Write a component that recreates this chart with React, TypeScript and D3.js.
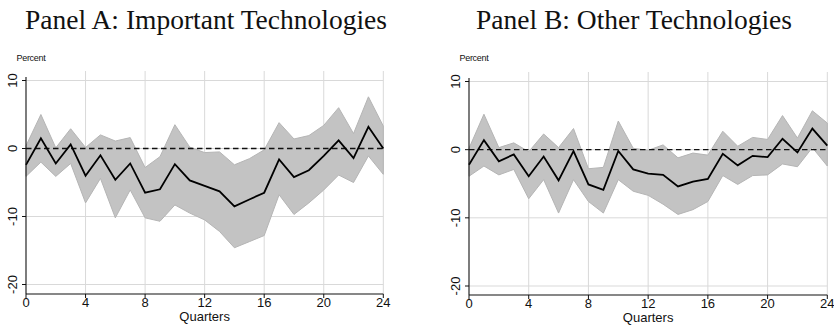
import React from "react";
import * as d3 from "d3";

// Quarters since the event
const quarters = [0, 1, 2, 3, 4, 5, 6, 7, 8, 9, 10, 11, 12, 13, 14, 15, 16, 17, 18, 19, 20, 21, 22, 23, 24];

// Panel A: important technologies (point estimate and confidence band, percent)
const estimateA = [-2.4, 1.5, -2.2, 0.6, -4.0, -1.0, -4.6, -2.2, -6.5, -6.0, -2.3, -4.7, -5.5, -6.3, -8.5, -7.5, -6.5, -1.6, -4.2, -3.2, -1.1, 1.2, -1.4, 3.2, 0.0];
const upperA = [0.4, 5.0, 0.1, 2.9, 0.15, 2.0, 1.1, 1.6, -2.8, -1.2, 3.5, 0.2, -0.6, -0.5, -2.4, -1.5, -0.2, 3.8, 1.4, 1.9, 3.4, 6.0, 2.2, 7.6, 3.3];
const lowerA = [-4.1, -2.0, -4.1, -2.2, -8.0, -4.4, -10.2, -6.1, -10.2, -10.7, -8.3, -9.5, -10.5, -12.2, -14.6, -13.7, -12.8, -6.8, -9.7, -8.0, -6.1, -3.9, -5.0, -1.1, -3.8];

// Panel B: other technologies
const estimateB = [-2.2, 1.4, -1.7, -0.7, -3.9, -1.0, -4.5, -0.2, -5.1, -5.9, -0.2, -2.9, -3.5, -3.7, -5.4, -4.7, -4.3, -0.6, -2.3, -0.9, -1.1, 1.6, -0.4, 3.1, 0.6];
const upperB = [0.2, 5.2, 0.3, 1.0, -0.3, 2.3, 0.3, 3.1, -2.8, -2.6, 4.2, 0.2, -0.1, 0.7, -1.2, -0.5, -0.8, 2.7, 0.5, 1.8, 1.5, 5.0, 1.7, 5.7, 3.9];
const lowerB = [-3.9, -2.4, -3.7, -2.9, -7.2, -4.4, -9.3, -4.4, -7.6, -9.3, -4.4, -6.1, -6.7, -8.0, -9.5, -8.8, -7.6, -3.8, -5.1, -3.8, -3.7, -2.1, -2.5, 0.3, -2.4];

const xTicks = [0, 4, 8, 12, 16, 20, 24];
const yTicks = [10, 0, -10, -20];

const titles = ["Panel A: Important Technologies", "Panel B: Other Technologies"];
const yLabel = "Percent";
const xLabel = "Quarters";

const SANS = "'Liberation Sans', Arial, Helvetica, sans-serif";
const SERIF = "'Liberation Serif', 'Times New Roman', serif";

type PanelProps = {
  title: string;
  titleX: number;
  est: number[];
  hi: number[];
  lo: number[];
  x0: number;
  x1: number;
  yTop: number; // pixel for y = 10
  yBot: number; // pixel for y = -20
  axisY: number; // pixel of the bottom axis line
};

function Panel({ title, titleX, est, hi, lo, x0, x1, yTop, yBot, axisY }: PanelProps) {
  const x = d3.scaleLinear().domain([0, 24]).range([x0, x1]);
  const y = d3.scaleLinear().domain([10, -20]).range([yTop, yBot]);
  const plotTop = yTop - 9.5;

  const rows = quarters.map((q, i) => ({ q, e: est[i], h: hi[i], l: lo[i] }));
  const band = d3
    .area<{ q: number; h: number; l: number }>()
    .x((d) => x(d.q))
    .y0((d) => y(d.l))
    .y1((d) => y(d.h));
  const line = d3
    .line<{ q: number; e: number }>()
    .x((d) => x(d.q))
    .y((d) => y(d.e));

  return (
    <g>
      <text x={titleX} y={28.5} textAnchor="middle" fontFamily={SERIF} fontSize={27.5} fill="#111">
        {title}
      </text>
      <text x={x0 - 9.5} y={61} fontFamily={SANS} fontSize={9} fill="#111" letterSpacing={-0.3}>
        {yLabel}
      </text>

      {/* grid */}
      {xTicks.slice(1).map((t) => (
        <line key={"gx" + t} x1={x(t)} x2={x(t)} y1={plotTop} y2={axisY} stroke="#d9d9d9" strokeWidth={1} />
      ))}
      {yTicks.map((t) => (
        <line key={"gy" + t} x1={x0} x2={x1} y1={y(t)} y2={y(t)} stroke="#d9d9d9" strokeWidth={1} />
      ))}

      {/* confidence band */}
      <path d={band(rows) ?? ""} fill="#c3c3c3" stroke="#b5b5b5" strokeWidth={1} strokeLinejoin="round" />

      {/* zero reference */}
      <line x1={x(0)} x2={x(24)} y1={y(0)} y2={y(0)} stroke="#111" strokeWidth={1.4} strokeDasharray="5.5,3.5" />

      {/* point estimates */}
      <path d={line(rows) ?? ""} fill="none" stroke="#000" strokeWidth={1.8} strokeLinejoin="miter" />

      {/* axes */}
      <line x1={x0} x2={x0} y1={yTop - 3.5} y2={axisY} stroke="#111" strokeWidth={1.1} />
      <line x1={x0} x2={x1} y1={axisY} y2={axisY} stroke="#111" strokeWidth={1.1} />
      {yTicks.map((t) => (
        <g key={"ty" + t}>
          <line x1={x0 - 4} x2={x0} y1={y(t)} y2={y(t)} stroke="#111" strokeWidth={1} />
          <text
            transform={`translate(${x0 - 9},${y(t)}) rotate(-90)`}
            textAnchor="middle"
            fontFamily={SANS}
            fontSize={13}
            fill="#111"
          >
            {t}
          </text>
        </g>
      ))}
      {xTicks.map((t) => (
        <g key={"tx" + t}>
          <line x1={x(t)} x2={x(t)} y1={axisY} y2={axisY + 4} stroke="#111" strokeWidth={1} />
          <text x={x(t)} y={axisY + 12.5} textAnchor="middle" fontFamily={SANS} fontSize={13} fill="#111">
            {t}
          </text>
        </g>
      ))}
      <text x={(x0 + x1) / 2} y={axisY + 27} textAnchor="middle" fontFamily={SANS} fontSize={13} fill="#111">
        {xLabel}
      </text>
    </g>
  );
}

export default function App() {
  return (
    <svg
      width={834}
      height={325}
      viewBox="0 0 834 325"
      style={{ position: "absolute", left: 0, top: 0, background: "#fff" }}
    >
      <rect width={834} height={325} fill="#fff" />
      <Panel
        title={titles[0]}
        titleX={206}
        est={estimateA}
        hi={upperA}
        lo={lowerA}
        x0={26}
        x1={383.3}
        yTop={80.5}
        yBot={284.5}
        axisY={294}
      />
      <Panel
        title={titles[1]}
        titleX={634}
        est={estimateB}
        hi={upperB}
        lo={lowerB}
        x0={469}
        x1={827.3}
        yTop={81.5}
        yBot={286}
        axisY={295}
      />
    </svg>
  );
}
